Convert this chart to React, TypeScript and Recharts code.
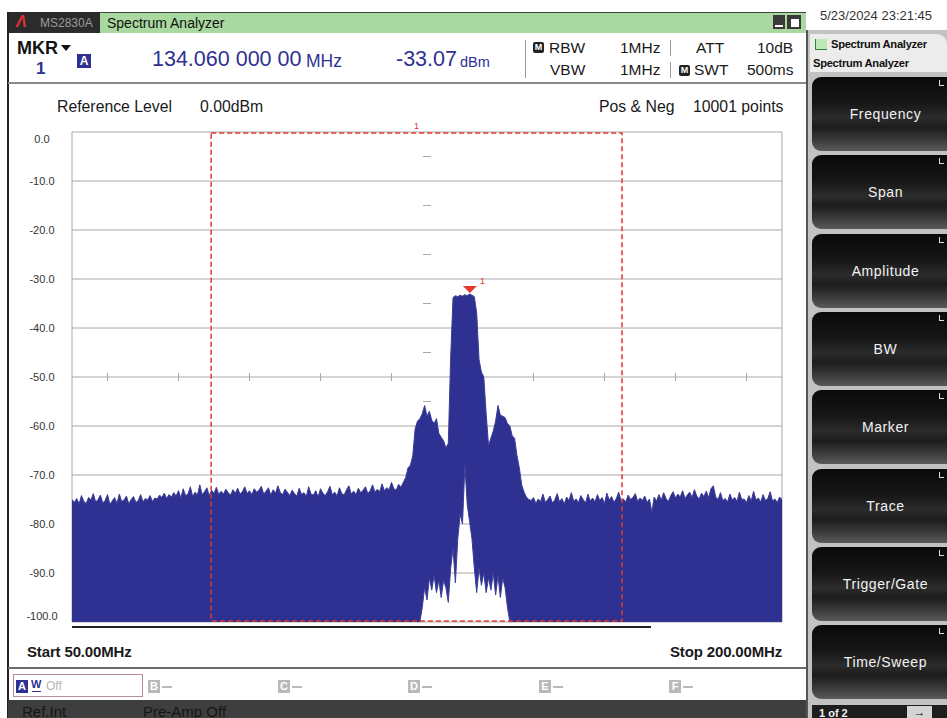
import React from 'react';
import {
  AreaChart,
  Area,
  XAxis,
  YAxis,
  CartesianGrid,
  ReferenceArea,
  ReferenceLine,
  ReferenceDot,
} from 'recharts';

// ---------- data ----------
const START_MHZ = 50;
const STOP_MHZ = 200;
const STEP_MHZ = 0.5;

// positive-peak trace (dBm), 50.0 – 119.5 MHz
const posLeft = [
  -75.0, -75.6, -74.8, -75.9, -74.2, -75.4, -75.8, -74.6, -75.1, -73.8,
  -75.5, -75.0, -74.1, -75.7, -75.2, -74.0, -76.0, -75.3, -74.6, -75.8,
  -73.9, -75.4, -75.1, -74.3, -75.9, -75.0, -74.4, -75.6, -75.2, -74.0,
  -75.5, -74.8, -75.1, -74.2, -75.4, -74.7, -74.9, -74.1, -74.6, -73.7,
  -74.8, -74.0, -74.5, -73.6, -74.3, -73.2, -74.7, -72.8, -74.2, -73.9,
  -72.4, -74.4, -73.5, -74.1, -72.0, -74.0, -73.4, -72.6, -74.2, -73.1,
  -73.8, -72.5, -74.0, -73.3, -73.9, -72.9, -73.6, -74.1, -73.0, -73.7,
  -72.7, -73.9, -73.4, -72.4, -73.8, -73.2, -74.0, -72.8, -73.5, -73.1,
  -72.3, -73.9, -73.3, -72.6, -74.1, -73.0, -73.7, -72.2, -73.6, -74.0,
  -72.9, -73.5, -74.2, -73.1, -73.8, -74.3, -72.7, -74.0, -73.6, -74.4,
  -72.4, -73.9, -74.1, -73.2, -74.5, -72.8, -73.7, -74.2, -73.4, -72.3,
  -74.0, -73.5, -74.3, -72.6, -73.8, -74.1, -73.0, -72.2, -73.9, -73.3,
  -74.0, -72.7, -73.6, -73.1, -72.4, -73.8, -73.2, -72.0, -73.5, -72.9,
  -73.4, -71.8, -73.2, -72.6, -73.0, -71.5, -72.8, -73.1, -71.9, -72.5,
];

// positive-peak trace (dBm), 120.0 – 146.5 MHz
const posSignal = [
  -71.5, -70.5, -68.5, -68.0, -66.0, -60.5, -59.0, -58.5, -57.5, -55.8,
  -58.0, -57.0, -58.8, -59.5, -58.5, -61.5, -62.3, -63.0, -64.5, -63.5,
  -46.0, -33.8, -33.4, -33.6, -33.3, -33.5, -33.2, -33.4, -33.07, -33.3,
  -33.6, -37.0, -46.5, -49.0, -50.0, -57.5, -64.0, -62.5, -61.0, -59.0,
  -55.8, -57.8, -58.0, -58.3, -59.5, -60.0, -62.0, -62.5, -66.0, -68.5,
  -72.0, -73.5, -74.5, -75.0,
];

// positive-peak trace (dBm), 147.0 – 200.0 MHz
const posRight = [
  -75.2, -74.6, -75.8, -74.9, -75.4, -73.9, -75.6, -75.0, -74.3, -75.7,
  -75.1, -73.8, -75.5, -74.8, -75.9, -74.5, -75.2, -73.6, -75.4, -74.9,
  -75.6, -74.2, -75.0, -75.7, -73.9, -75.3, -74.7, -75.5, -74.0, -75.2,
  -74.6, -75.8, -73.7, -75.1, -74.4, -75.6, -74.8, -73.5, -75.3, -74.9,
  -75.5, -74.1, -75.0, -74.6, -73.8, -75.4, -74.7, -75.2, -74.3, -75.6,
  -74.9, -77.6, -74.5, -75.3, -74.0, -75.1, -73.6, -74.8, -75.4, -74.2,
  -73.4, -74.7, -73.9, -74.5, -73.2, -74.8, -74.1, -73.5, -74.6, -73.0,
  -74.3, -74.9, -73.7, -74.4, -73.3, -74.6, -72.8, -72.2, -74.5, -75.0,
  -73.6, -75.2, -74.8, -75.5, -73.9, -75.1, -74.6, -75.4, -73.5, -75.0,
  -74.9, -75.6, -74.2, -75.3, -73.3, -75.1, -74.7, -75.5, -74.0, -75.2,
  -74.8, -73.4, -75.3, -74.9, -75.6, -74.5, -75.0,
];

// negative-peak trace (dBm), 123.5 – 143.0 MHz; elsewhere below the screen
const NEG_START_MHZ = 123.5;
const NEG_FLOOR = -100;
const negCenter = [
  -100, -97, -93, -95.5, -91, -93.5, -90.5, -94, -91.5, -95,
  -91.5, -93, -96, -89, -85, -92, -83, -78, -80, -68,
  -76, -79.5, -83, -89, -94, -89, -92.5, -90, -94, -91,
  -93.5, -90, -94.5, -90.5, -95, -91, -93, -97, -100, -100,
];

const yTicks = [0, -10, -20, -30, -40, -50, -60, -70, -80, -90, -100];
const xTicks = [50, 65, 80, 95, 110, 125, 140, 155, 170, 185, 200];
const CENTER_MHZ = 125;
const minorYTicks = [-5, -15, -25, -35, -45, -55];
const MINOR_X_LEVEL = -50;
const minorXTicks = [57.5, 72.5, 87.5, 102.5, 117.5, 147.5, 162.5, 177.5, 192.5];

const ZONE_START_MHZ = 79.4;
const ZONE_STOP_MHZ = 166.2;
const MARKER_MHZ = 134.06;
const MARKER_DBM = -33.07;

const posAll = [...posLeft, ...posSignal, ...posRight];
const data = posAll.map((p, i) => {
  const f = START_MHZ + i * STEP_MHZ;
  const j = Math.round((f - NEG_START_MHZ) / STEP_MHZ);
  const neg = j >= 0 && j < negCenter.length ? negCenter[j] : NEG_FLOOR;
  return { f, range: [neg, p] };
});

// ---------- styles ----------
const NAVY = '#2e3192';
const RED = '#e2382e';
const FONT = '"Liberation Sans", Arial, Helvetica, sans-serif';

const T = ({ x, y, size, children, color = '#1a1a1a', weight = 400, style = {} }: any) => (
  <div
    style={{
      position: 'absolute',
      left: x,
      top: y - size / 2,
      fontSize: size,
      lineHeight: 1,
      color,
      fontWeight: weight,
      whiteSpace: 'nowrap',
      ...style,
    }}
  >
    {children}
  </div>
);

const Box = ({ x, y, w, h, style = {}, children }: any) => (
  <div style={{ position: 'absolute', left: x, top: y, width: w, height: h, ...style }}>{children}</div>
);

const MIcon = ({ x, y }: any) => (
  <Box
    x={x}
    y={y}
    w={11}
    h={11}
    style={{
      background: '#222',
      borderRadius: 2,
      color: '#fff',
      fontSize: 9,
      fontWeight: 700,
      lineHeight: '11px',
      textAlign: 'center',
    }}
  >
    M
  </Box>
);

const TraceBox = ({ x, letter }: any) => (
  <>
    <Box
      x={x}
      y={680}
      w={12}
      h={13}
      style={{ background: '#b9b9b9', color: '#fff', fontSize: 11, fontWeight: 700, lineHeight: '13px', textAlign: 'center' }}
    >
      {letter}
    </Box>
    <Box x={x + 14} y={686} w={10} h={2} style={{ background: '#b9b9b9' }} />
  </>
);

const SoftKey = ({ center, label }: any) => (
  <Box
    x={812}
    y={center - 37}
    w={135}
    h={74}
    style={{
      borderRadius: '9px 0 0 9px',
      background:
        'linear-gradient(180deg, #0a0a0a 0%, #161616 35%, #2c2c2c 55%, #1c1c1c 68%, #3a3a3a 85%, #5a5a5a 100%)',
      color: '#f2f2f2',
      fontSize: 14,
      letterSpacing: 0.6,
      display: 'flex',
      alignItems: 'center',
      justifyContent: 'center',
      paddingLeft: 12,
      boxSizing: 'border-box',
    }}
  >
    {label}
    <div style={{ position: 'absolute', right: 3, top: 3, width: 4, height: 5, borderLeft: '1px solid #ddd', borderBottom: '1px solid #ddd' }} />
  </Box>
);

const YTick = (props: any) => {
  const { y, payload } = props;
  const v = payload.value as number;
  const dy = v === 0 ? 7 : v === -100 ? -6 : 0;
  return (
    <text x={42} y={y + dy} textAnchor="middle" dominantBaseline="central" fontSize={11} fill="#333" fontFamily={FONT}>
      {v.toFixed(1)}
    </text>
  );
};

const MarkerShape = (props: any) => {
  const { cx, cy } = props;
  return (
    <g>
      <polygon points={`${cx - 7},${cy - 8} ${cx + 7},${cy - 8} ${cx},${cy - 1}`} fill={RED} />
      <text x={cx + 10} y={cy - 10} fontSize={9} fill={RED} fontFamily={FONT}>
        1
      </text>
    </g>
  );
};

const ZoneLabel = (props: any) => {
  const { viewBox } = props;
  return (
    <text x={viewBox.x + viewBox.width / 2} y={viewBox.y - 4} textAnchor="middle" fontSize={9} fill={RED} fontFamily={FONT}>
      1
    </text>
  );
};

const MINOR_X_HALF = 0.85;
const MINOR_Y_HALF = 0.82;

export default function App() {
  const panelKeys = ['Frequency', 'Span', 'Amplitude', 'BW', 'Marker', 'Trace', 'Trigger/Gate', 'Time/Sweep'];
  return (
    <div
      style={{
        position: 'fixed',
        left: 0,
        top: 0,
        width: 947,
        height: 718,
        background: '#fff',
        overflow: 'hidden',
        fontFamily: FONT,
      }}
    >
      {/* title bar */}
      <Box x={8} y={12} w={92} h={21} style={{ background: '#2b2b2b' }} />
      <T x={16} y={22} size={16} color="#e0303a" weight={700} style={{ fontStyle: 'italic' }}>
        Λ
      </T>
      <T x={40} y={23} size={12} color="#9b9b9b">
        MS2830A
      </T>
      <Box x={100} y={12} w={706} h={21} style={{ background: '#a9d8a0', borderTop: '1px solid #444', boxSizing: 'border-box' }} />
      <T x={107} y={23} size={14} color="#111">
        Spectrum Analyzer
      </T>
      <Box x={773} y={15} w={12} h={14} style={{ background: '#3a3a3a' }}>
        <div style={{ position: 'absolute', left: 2, bottom: 2, width: 8, height: 2, background: '#fff' }} />
      </Box>
      <Box x={787} y={15} w={14} h={14} style={{ background: '#3a3a3a' }}>
        <div style={{ position: 'absolute', left: 3, top: 3, width: 8, height: 8, background: '#fff', border: '1px solid #3a3a3a' }} />
      </Box>

      {/* frame left line */}
      <Box x={7} y={12} w={2} h={706} style={{ background: '#222' }} />

      {/* marker header */}
      <T x={17} y={48} size={18} weight={700} color="#111">
        MKR
      </T>
      <div style={{ position: 'absolute', left: 61, top: 45, width: 0, height: 0, borderLeft: '5px solid transparent', borderRight: '5px solid transparent', borderTop: '6px solid #111' }} />
      <T x={36} y={68} size={17} weight={700} color={NAVY}>
        1
      </T>
      <Box
        x={77}
        y={54}
        w={14}
        h={14}
        style={{ background: NAVY, color: '#fff', fontSize: 12, fontWeight: 700, lineHeight: '14px', textAlign: 'center' }}
      >
        A
      </Box>
      <T x={152} y={60} size={21.5} color={NAVY}>
        134.060 000 00
      </T>
      <T x={306} y={61.5} size={17.5} color={NAVY}>
        MHz
      </T>
      <T x={396} y={60} size={21.5} color={NAVY}>
        -33.07
      </T>
      <T x={460} y={62.5} size={14.5} color={NAVY}>
        dBm
      </T>
      <Box x={525} y={40} w={1} h={38} style={{ background: '#999' }} />
      <MIcon x={533} y={42} />
      <T x={549} y={47.5} size={15.5}>
        RBW
      </T>
      <T x={620} y={47.5} size={15.5}>
        1MHz
      </T>
      <Box x={670} y={40} w={1} h={16} style={{ background: '#999' }} />
      <Box x={670} y={62} w={1} h={16} style={{ background: '#999' }} />
      <T x={696} y={47.5} size={15.5}>
        ATT
      </T>
      <T x={757} y={47.5} size={15.5}>
        10dB
      </T>
      <T x={550} y={70} size={15.5}>
        VBW
      </T>
      <T x={620} y={70} size={15.5}>
        1MHz
      </T>
      <MIcon x={679} y={64.5} />
      <T x={694} y={70} size={15.5}>
        SWT
      </T>
      <T x={747} y={70} size={15.5}>
        500ms
      </T>
      <Box x={8} y={82} w={798} h={2} style={{ background: '#8a8a8a' }} />

      {/* chart info texts */}
      <T x={57} y={106.5} size={15.8}>
        Reference Level
      </T>
      <T x={200} y={106.5} size={15.8}>
        0.00dBm
      </T>
      <T x={599} y={106.5} size={15.8}>
        Pos &amp; Neg
      </T>
      <T x={693} y={106.5} size={15.8}>
        10001 points
      </T>

      {/* chart */}
      <div style={{ position: 'absolute', left: 0, top: 0 }}>
        <AreaChart width={806} height={650} data={data} margin={{ top: 132, right: 24, bottom: 18, left: 22 }}>
          <CartesianGrid stroke="#a8a8a8" strokeWidth={1} />
          <XAxis
            dataKey="f"
            type="number"
            domain={[START_MHZ, STOP_MHZ]}
            ticks={xTicks}
            tick={false}
            axisLine={false}
            tickLine={false}
            height={10}
            allowDataOverflow
          />
          <YAxis
            type="number"
            domain={[-100, 0]}
            ticks={yTicks}
            tick={<YTick />}
            axisLine={false}
            tickLine={false}
            width={50}
            interval={0}
            allowDataOverflow
          />
          {minorYTicks.map((v) => (
            <ReferenceLine
              key={'my' + v}
              segment={[
                { x: CENTER_MHZ - MINOR_X_HALF, y: v },
                { x: CENTER_MHZ + MINOR_X_HALF, y: v },
              ]}
              stroke="#a8a8a8"
            />
          ))}
          {minorXTicks.map((v) => (
            <ReferenceLine
              key={'mx' + v}
              segment={[
                { x: v, y: MINOR_X_LEVEL - MINOR_Y_HALF },
                { x: v, y: MINOR_X_LEVEL + MINOR_Y_HALF },
              ]}
              stroke="#a8a8a8"
            />
          ))}
          <Area
            type="linear"
            dataKey="range"
            stroke="#3b3d95"
            strokeWidth={1}
            fill={NAVY}
            fillOpacity={1}
            isAnimationActive={false}
            dot={false}
            activeDot={false}
          />
          <ReferenceArea
            x1={ZONE_START_MHZ}
            x2={ZONE_STOP_MHZ}
            y1={-99.8}
            y2={-0.2}
            stroke={RED}
            strokeWidth={1.5}
            strokeDasharray="5 3"
            fill="none"
            fillOpacity={0}
            ifOverflow="visible"
            label={<ZoneLabel />}
          />
          <ReferenceDot x={MARKER_MHZ} y={MARKER_DBM} r={6} shape={<MarkerShape />} ifOverflow="visible" />
        </AreaChart>
      </div>

      {/* sweep bar */}
      <Box x={72} y={626} w={579} h={2} style={{ background: '#222' }} />

      <T x={27} y={651} size={15} weight={700} style={{ letterSpacing: -0.15 }}>
        Start 50.00MHz
      </T>
      <T x={670} y={651} size={15} weight={700} style={{ letterSpacing: -0.15 }}>
        Stop 200.00MHz
      </T>

      <Box x={8} y={667} w={798} h={2} style={{ background: '#6a6a6a' }} />

      {/* trace row */}
      <Box x={13} y={674} w={130} h={23} style={{ border: '1px solid #b48aa4', boxSizing: 'border-box' }} />
      <Box
        x={16}
        y={680}
        w={12}
        h={13}
        style={{ background: NAVY, color: '#fff', fontSize: 11, fontWeight: 700, lineHeight: '13px', textAlign: 'center' }}
      >
        A
      </Box>
      <T x={31} y={684} size={11} weight={700} color={NAVY}>
        W
      </T>
      <Box x={32} y={691} w={9} h={1} style={{ background: NAVY }} />
      <T x={46} y={686} size={12} color="#b5b5b5">
        Off
      </T>
      <TraceBox x={148} letter="B" />
      <TraceBox x={278} letter="C" />
      <TraceBox x={408} letter="D" />
      <TraceBox x={539} letter="E" />
      <TraceBox x={669} letter="F" />

      {/* status bar */}
      <Box x={8} y={700} w={798} h={18} style={{ background: '#3e3e3e' }} />
      <T x={22} y={711} size={15} color="#151515">
        Ref.Int
      </T>
      <T x={143} y={711} size={15} color="#151515">
        Pre-Amp Off
      </T>

      {/* right panel */}
      <Box x={806} y={0} w={141} h={30} style={{ background: '#fff' }} />
      <T x={820} y={15} size={13} color="#333">
        5/23/2024 23:21:45
      </T>
      <Box x={806} y={30} w={141} h={688} style={{ background: '#c2c2c2', borderLeft: '2px solid #555', boxSizing: 'border-box' }} />
      <Box x={810} y={34} w={137} h={38} style={{ background: '#ececec', borderRadius: '0 10px 0 0' }} />
      <Box x={815} y={39} w={11} h={10} style={{ borderLeft: '1px solid #2a8a2a', borderBottom: '1px solid #2a8a2a', background: '#bfe8b8' }} />
      <T x={831} y={45} size={11.2} weight={700} color="#111" style={{ letterSpacing: -0.3 }}>
        Spectrum Analyzer
      </T>
      <T x={813} y={64} size={11.2} weight={700} color="#111" style={{ letterSpacing: -0.3 }}>
        Spectrum Analyzer
      </T>
      {panelKeys.map((k, i) => (
        <SoftKey key={k} center={114 + i * 78.3} label={k} />
      ))}
      <Box x={812} y={705} w={135} h={13} style={{ background: '#1e1e1e' }} />
      <T x={819} y={713} size={11} weight={700} color="#f0f0f0">
        1 of 2
      </T>
      <Box
        x={907}
        y={706}
        w={25}
        h={12}
        style={{ background: '#d4d4d4', color: '#111', fontSize: 12, fontWeight: 700, lineHeight: '12px', textAlign: 'center' }}
      >
        →
      </Box>
    </div>
  );
}
